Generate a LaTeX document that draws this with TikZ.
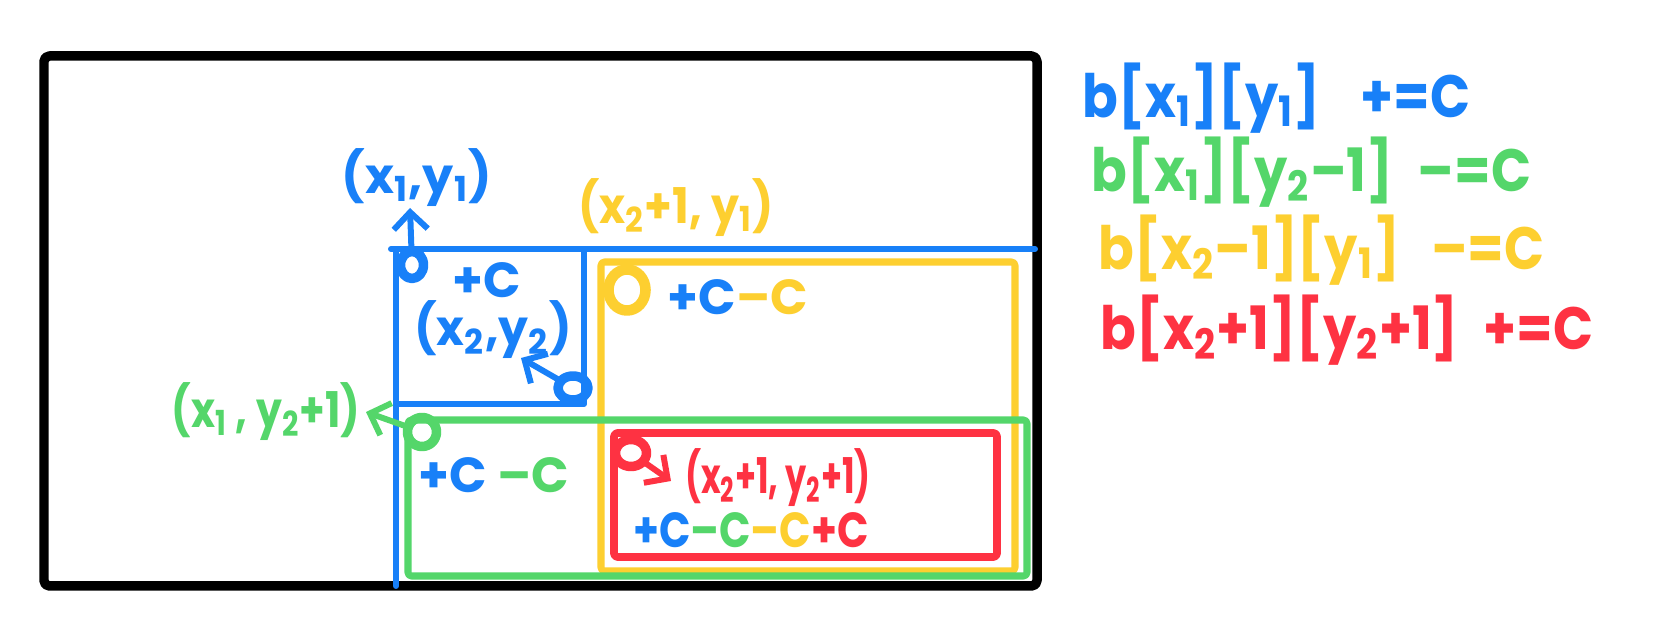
\documentclass[tikz,border=0pt]{standalone}
\usepackage{fontspec}
\setmainfont{Poppins}
\usetikzlibrary{arrows.meta,shapes.geometric}
\definecolor{hblue}{RGB}{24,128,248}
\definecolor{hgreen}{RGB}{84,214,106}
\definecolor{hyellow}{RGB}{253,207,48}
\definecolor{hred}{RGB}{254,50,66}
\newcommand{\sbs}[1]{\textsubscript{#1}}
\newcommand{\sq}[2]{\scalebox{#1}[1]{#2}}
\begin{document}
\begin{tikzpicture}[x=0.01cm,y=-0.01cm, line cap=round, line join=round,
  frame/.style={line width=2.7pt, black, rounded corners=1.5pt},
  bline/.style={line width=1.7pt, hblue},
  boxline/.style={line width=2pt, rounded corners=1pt},
  spot/.style={draw, ellipse, inner sep=0pt, outer sep=0pt, line width=2.7pt},
  lab/.style={inner sep=0pt, font=\bfseries\fontsize{14}{16}\selectfont},
  eqn/.style={inner sep=0pt, anchor=west, font=\bfseries\fontsize{17}{20}\selectfont},
  arr/.style={-{Straight Barb[length=1.7mm,width=3.4mm]}, line width=1.7pt}
]
\useasboundingbox (0,0) rectangle (1656,640);
\fill[white] (0,0) rectangle (1656,640);
% outer frame
\draw[frame] (44,56) rectangle (1037,586);
% blue lines
\draw[bline] (391,249) -- (1035,249);
\draw[bline] (396,249) -- (396,586);
\draw[bline] (584,249) -- (584,404) -- (396,404);
% boxes
\draw[boxline, hyellow] (601,262) rectangle (1015,571);
\draw[boxline, hgreen] (408,420) rectangle (1027,576);
\draw[boxline, hred, line width=2.2pt] (614,433) rectangle (997,557);
% spots
\node[spot, hblue, minimum width=0.23cm, minimum height=0.27cm] (c1) at (412,265) {};
\node[spot, hblue, minimum width=0.3cm, minimum height=0.24cm] (c2) at (573,388) {};
\node[spot, hyellow, line width=3pt, minimum width=0.37cm, minimum height=0.41cm] (cy) at (627,290) {};
\node[spot, hgreen, minimum width=0.29cm, minimum height=0.29cm] (cg) at (422,432) {};
\node[spot, hred, minimum width=0.31cm, minimum height=0.27cm] (cr) at (631,453) {};
% labels
\node[lab, hblue] (l1) at (417,178) {(x\sbs{1},y\sbs{1})};
\node[lab, hyellow] (l2) at (676,208) {\sq{0.9}{(x\sbs{2}+1, y\sbs{1})}};
\node[lab, hblue] (pc1) at (487,280) {+C};
\node[lab, hblue] (l3) at (493,330) {\sq{0.96}{(x\sbs{2},y\sbs{2})}};
\node[lab] (pc2) at (738,297) {\textcolor{hblue}{+C}\textcolor{hyellow}{--C}};
\node[lab, hgreen] (l4) at (266,412) {\sq{0.83}{(x\sbs{1} , y\sbs{2}+1)}};
\node[lab] (pc3) at (494,475) {\textcolor{hblue}{+C} \textcolor{hgreen}{--C}};
\node[lab, hred] (l5) at (778,478) {\sq{0.68}{(x\sbs{2}+1, y\sbs{2}+1)}};
\node[lab] (pc4) at (751,530) {\sq{0.84}{\textcolor{hblue}{+C}\textcolor{hgreen}{--C}\textcolor{hyellow}{--C}\textcolor{hred}{+C}}};
% arrow ends
\coordinate (a1) at (410,208);
\coordinate (a2) at (521,358);
\coordinate (a3) at (366,412);
\coordinate (a4) at (671,481);
\draw[arr, hblue] (c1) -- (a1);
\draw[arr, hblue] (c2) -- (a2);
\draw[arr, hgreen] (cg) -- (a3);
\draw[arr, hred] (cr) -- (a4);
% equations
\node[eqn, hblue] (e1) at (1082,98) {\sq{0.88}{b[x\sbs{1}][y\sbs{1}]\hspace{13pt}+=C}};
\node[eqn, hgreen] (e2) at (1091,172) {\sq{0.88}{b[x\sbs{1}][y\sbs{2}--1]\hspace{8pt}--=C}};
\node[eqn, hyellow] (e3) at (1098,250) {\sq{0.88}{b[x\sbs{2}--1][y\sbs{1}]\hspace{10pt}--=C}};
\node[eqn, hred] (e4) at (1100,330) {\sq{0.88}{b[x\sbs{2}+1][y\sbs{2}+1]\hspace{8pt}+=C}};
\end{tikzpicture}
\end{document}
